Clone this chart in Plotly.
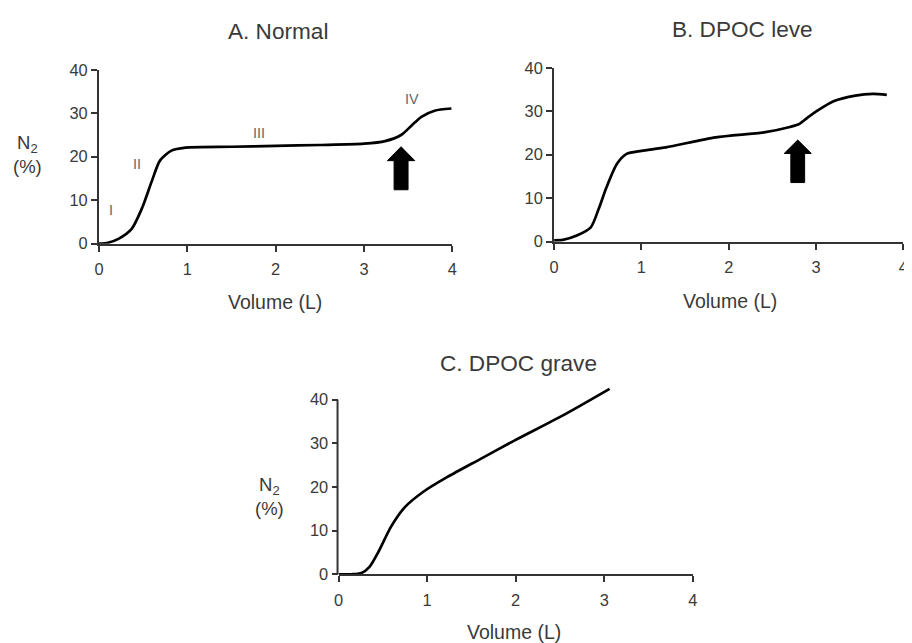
import plotly.graph_objects as go

# ---------------- data ----------------
vol_A = [0, 0.1, 0.22, 0.37, 0.49, 0.6, 0.69, 0.82, 0.98, 1.5, 2.0, 2.5, 3.0, 3.24, 3.42, 3.54, 3.65, 3.8, 3.99]
n2_A = [0, 0.2, 1.1, 3.4, 8.3, 14.5, 19.1, 21.4, 22.1, 22.3, 22.5, 22.7, 23.0, 23.6, 25.0, 27.2, 29.2, 30.6, 31.1]

vol_B = [0, 0.1, 0.26, 0.42, 0.51, 0.6, 0.72, 0.83, 1.0, 1.28, 1.85, 2.42, 2.7, 2.8, 2.9, 3.02, 3.2, 3.45, 3.65, 3.81]
n2_B = [0.3, 0.4, 1.4, 3.3, 7.5, 12.5, 17.9, 20.2, 20.9, 21.7, 24.0, 25.2, 26.4, 27.0, 28.5, 30.2, 32.3, 33.6, 34.0, 33.8]

vol_C = [0, 0.15, 0.26, 0.35, 0.46, 0.59, 0.75, 0.95, 1.23, 1.6, 1.99, 2.55, 3.06]
n2_C = [0, 0, 0.3, 1.7, 5.5, 10.8, 15.4, 18.8, 22.3, 26.4, 30.7, 36.6, 42.5]

x_ticks = [0, 1, 2, 3, 4]
y_ticks = [0, 10, 20, 30, 40]
titles = ["A. Normal", "B. DPOC leve", "C. DPOC grave"]
x_title = "Volume (L)"
y_title = "N<sub>2</sub><br>(%)"

phase_labels = ["I", "II", "III", "IV"]
phase_x = [0.136, 0.43, 1.81, 3.54]
phase_y = [7.8, 18.4, 25.5, 33.3]

# arrows: (center x, tip y, head base y, tail y) in data units
arrow_A = (3.42, 22.3, 19.1, 12.4)
arrow_B = (2.79, 23.4, 20.3, 13.6)

# ---------------- layout helpers ----------------
# page body has an 8px margin; the capture maps page px -> picture px with a
# slight shrink, so picture targets are pre-compensated.
OFF = 8
W, H = 912, 650
SX, BX = 0.991, 2.9
SY, BY = 0.9735, 8.3
FONT = "Liberation Sans, Arial, Helvetica, sans-serif"
TXT = "#3a3a3a"


def px(x):
    return ((x - BX) / SX - OFF) / W


def py(y):
    return 1 - ((y - BY) / SY - OFF) / H


def fs(s):
    return round(s / SY, 1)


def arrow_poly(spec, head_hw=0.155, shaft_hw=0.079):
    xc, tip, hb, tail = spec
    xs = [xc, xc + head_hw, xc + shaft_hw, xc + shaft_hw, xc - shaft_hw, xc - shaft_hw, xc - head_hw, xc]
    ys = [tip, hb, hb, tail, tail, hb, hb, tip]
    return xs, ys


fig = go.Figure()

line_style = dict(color="black", width=2.7, shape="spline", smoothing=0.7)
fig.add_trace(go.Scatter(x=vol_A, y=n2_A, mode="lines", line=line_style, xaxis="x", yaxis="y", hoverinfo="skip"))
fig.add_trace(go.Scatter(x=vol_B, y=n2_B, mode="lines", line=line_style, xaxis="x2", yaxis="y2", hoverinfo="skip"))
fig.add_trace(go.Scatter(x=vol_C, y=n2_C, mode="lines", line=line_style, xaxis="x3", yaxis="y3", hoverinfo="skip"))

for spec, xa_, ya_ in [(arrow_A, "x", "y"), (arrow_B, "x2", "y2")]:
    ax_, ay_ = arrow_poly(spec)
    fig.add_trace(go.Scatter(x=ax_, y=ay_, mode="lines", fill="toself", fillcolor="black",
                             line=dict(color="black", width=1), xaxis=xa_, yaxis=ya_, hoverinfo="skip"))

axis_common = dict(
    showline=True, linecolor="#333", linewidth=2,
    ticks="outside", ticklen=6, tickwidth=2, tickcolor="#333",
    showgrid=False, zeroline=False,
    tickfont=dict(family=FONT, size=fs(16), color=TXT),
)

domA_x = [px(97), px(451)]
domA_y = [py(243), py(69)]
domB_x = [px(553), px(903)]
domB_y = [py(241), py(67)]
C_top = 43.5
domC_x = [px(337), px(692)]
c_y0, c_scale = 574, 4.3675
domC_y = [py(c_y0), py(c_y0 - C_top * c_scale)]

xa = dict(axis_common, range=[0, 4], tickvals=x_ticks, ticklabelstandoff=4)
ya = dict(axis_common, range=[0, 40], tickvals=y_ticks)

fig.update_layout(
    width=W, height=H, margin=dict(l=0, r=0, t=0, b=0), autosize=False,
    paper_bgcolor="white", plot_bgcolor="white", showlegend=False,
    xaxis=dict(xa, domain=domA_x, anchor="y"),
    yaxis=dict(ya, domain=domA_y, anchor="x"),
    xaxis2=dict(xa, domain=domB_x, anchor="y2"),
    yaxis2=dict(ya, domain=domB_y, anchor="x2"),
    xaxis3=dict(xa, domain=domC_x, anchor="y3"),
    yaxis3=dict(ya, domain=domC_y, anchor="x3", range=[0, C_top], showline=False),
)

# y-axis line for panel C stopping at 40
fig.add_shape(type="line", xref="paper", yref="paper",
              x0=domC_x[0] - 1 / W, x1=domC_x[0] - 1 / W,
              y0=domC_y[0], y1=domC_y[0] + 40 / C_top * (domC_y[1] - domC_y[0]),
              line=dict(color="#333", width=2))

ann = []
for t, (x, y) in zip(titles, [(276, 31), (742, 29), (517, 363)]):
    ann.append(dict(text=t, x=px(x), y=py(y), xref="paper", yref="paper", showarrow=False,
                    font=dict(family=FONT, size=fs(22), color=TXT), xanchor="center", yanchor="middle"))
for (x, y) in [(273, 301), (729, 300), (513, 632)]:
    ann.append(dict(text=x_title, x=px(x), y=py(y), xref="paper", yref="paper", showarrow=False,
                    font=dict(family=FONT, size=fs(19), color=TXT), xanchor="center", yanchor="middle"))
for (x, y) in [(25, 154), (268, 496)]:
    ann.append(dict(text=y_title, x=px(x), y=py(y), xref="paper", yref="paper", showarrow=False,
                    font=dict(family=FONT, size=fs(18), color=TXT), xanchor="center", yanchor="middle"))
for t, x, y in zip(phase_labels, phase_x, phase_y):
    ann.append(dict(text=t, x=x, y=y, xref="x", yref="y", showarrow=False,
                    font=dict(family=FONT, size=fs(14), color="#666"), xanchor="center", yanchor="middle"))
fig.update_layout(annotations=ann)

fig.write_html("out.html", config={"displayModeBar": False})
